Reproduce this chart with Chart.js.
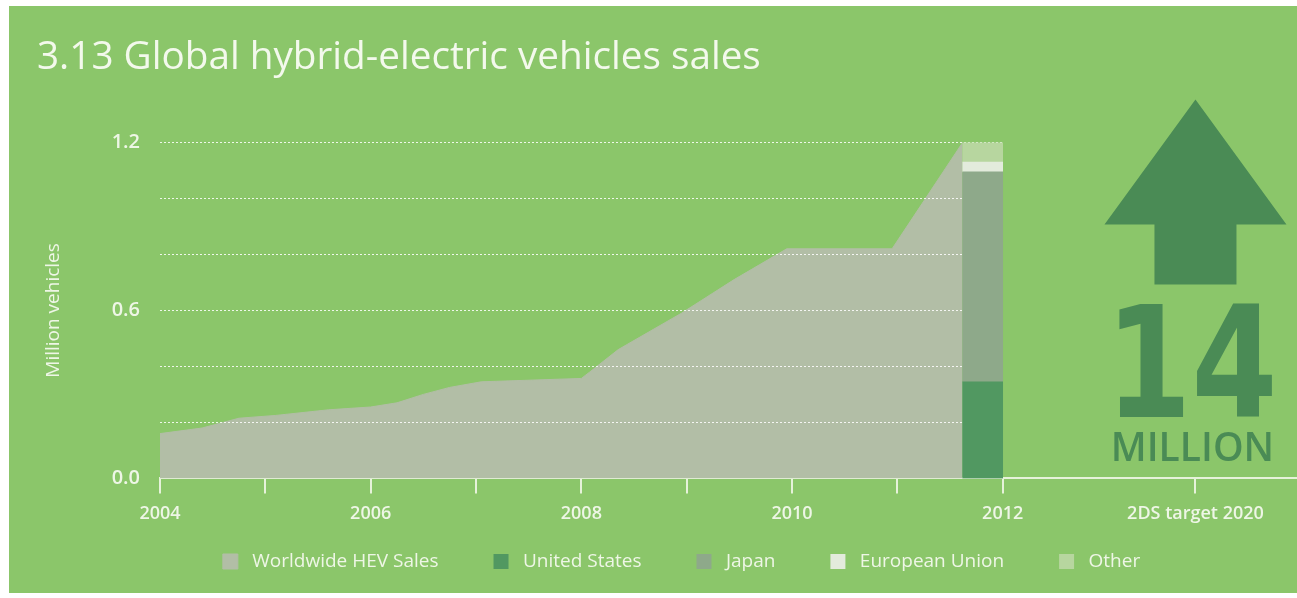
<!DOCTYPE html>
<html>
<head>
<meta charset="utf-8">
<title>Global hybrid-electric vehicles sales</title>
<script src="https://cdn.jsdelivr.net/npm/chart.js@4.4.1/dist/chart.umd.min.js"></script>
<style>
  html, body { margin: 0; padding: 0; background: #ffffff; }
  #panel {
    position: absolute; left: 9px; top: 6px;
    width: 1288px; height: 587px;
    overflow: hidden; background: #8bc66a;
  }
  #chart { display: block; }
</style>
</head>
<body>
<div id="panel"><canvas id="chart" width="1355" height="587"></canvas></div>
<script>
(function () {
  'use strict';

  // worldwide HEV sales (million vehicles)
  const areaYears = [2004.0, 2004.4, 2004.75, 2005.1, 2005.6, 2006.0, 2006.25, 2006.5, 2006.75, 2007.05, 2008.0, 2008.08, 2008.35, 2008.95, 2009.45, 2009.95, 2010.95, 2011.62];
  const areaSales = [0.16, 0.18, 0.215, 0.225, 0.245, 0.255, 0.27, 0.30, 0.325, 0.345, 0.357, 0.38, 0.46, 0.59, 0.71, 0.82, 0.82, 1.2];

  // 2012 regional split (million vehicles)
  const barYear = 2011.81;
  const usSales = [0.345];
  const japanSales = [0.75];
  const euSales = [0.035];
  const otherSales = [0.07];

  const seriesNames = ['Worldwide HEV Sales', 'United States', 'Japan', 'European Union', 'Other'];
  const seriesColors = ['#b2bea6', '#519861', '#8ea98a', '#e3ebdc', '#b7d69f'];

  // x axis: one tick a year, the 2020 target squeezed in after 2012
  const xTickValues = [2004, 2005, 2006, 2007, 2008, 2009, 2010, 2011, 2012, 2013.83];
  const xTickLabels = ['2004', '', '2006', '', '2008', '', '2010', '', '2012', '2DS target 2020'];
  const yLabelValues = [0, 0.6, 1.2];

  const targetValue = '14';
  const targetUnit = 'MILLION';
  const targetPos = 2013.83;

  const FONT = "'Open Sans', sans-serif";
  const TEXT = '#eef6e6';
  const AXIS = '#e6f2da';
  const DARK = '#4a8b55';

  // dotted grid drawn right after the area, so it sits over the fill but under the bar
  const dottedGrid = {
    id: 'dottedGrid',
    afterDatasetDraw(chart, args) {
      if (args.index !== 0) return;
      const { ctx } = chart;
      const x = chart.scales.x, y = chart.scales.y;
      const x0 = x.getPixelForValue(2004), x1 = x.getPixelForValue(2012);
      ctx.save();
      ctx.strokeStyle = 'rgba(255,255,255,0.85)';
      ctx.lineWidth = 1;
      ctx.setLineDash([2, 2]);
      y.ticks.forEach(t => {
        if (t.value <= 0.001) return;
        const py = Math.round(y.getPixelForValue(t.value)) + 0.5;
        ctx.beginPath(); ctx.moveTo(x0, py); ctx.lineTo(x1, py); ctx.stroke();
      });
      ctx.restore();
    }
  };

  // big arrow + "14 MILLION" over the 2020 tick
  const targetNote = {
    id: 'targetNote',
    afterDraw(chart) {
      const { ctx, chartArea: a } = chart;
      const cx = chart.scales.x.getPixelForValue(targetPos);
      ctx.save();
      ctx.fillStyle = DARK;
      ctx.beginPath();
      ctx.moveTo(cx, a.top - 43);
      ctx.lineTo(cx + 91, a.top + 82);
      ctx.lineTo(cx + 41, a.top + 82);
      ctx.lineTo(cx + 41, a.top + 142);
      ctx.lineTo(cx - 41, a.top + 142);
      ctx.lineTo(cx - 41, a.top + 82);
      ctx.lineTo(cx - 91, a.top + 82);
      ctx.closePath();
      ctx.fill();

      ctx.textAlign = 'center';
      ctx.textBaseline = 'alphabetic';
      ctx.font = "bold 155px 'DejaVu Sans', sans-serif";
      const w = ctx.measureText(targetValue).width;
      ctx.save();
      ctx.translate(cx - 4, a.top + 275);
      ctx.scale(172 / w, 1);
      ctx.fillText(targetValue, 0, 0);
      ctx.restore();

      ctx.font = "600 39px " + FONT;
      ctx.fillText(targetUnit, cx - 3, a.top + 319);
      ctx.restore();
    }
  };

  const xy = (xs, ys) => xs.map((x, i) => ({ x: x, y: ys[i] }));
  const barData = arr => arr.map(v => ({ x: barYear, y: v }));

  // legend: a little air after the swatch and between the entries
  const legendLabels = chart =>
    Chart.defaults.plugins.legend.labels.generateLabels(chart)
      .map(it => Object.assign(it, { text: ' ' + it.text + '\u2003\u2002\u2002' }));

  new Chart(document.getElementById('chart'), {
    type: 'line',
    data: {
      datasets: [
        { label: seriesNames[0], data: xy(areaYears, areaSales), stack: 'area', order: 2,
          backgroundColor: seriesColors[0], borderColor: seriesColors[0], borderWidth: 1,
          fill: 'origin', pointRadius: 0, tension: 0 },
        { type: 'bar', label: seriesNames[1], data: barData(usSales), stack: 'bar', order: 1, backgroundColor: seriesColors[1], borderWidth: 0, barThickness: 40 },
        { type: 'bar', label: seriesNames[2], data: barData(japanSales), stack: 'bar', order: 1, backgroundColor: seriesColors[2], borderWidth: 0, barThickness: 40 },
        { type: 'bar', label: seriesNames[3], data: barData(euSales), stack: 'bar', order: 1, backgroundColor: seriesColors[3], borderWidth: 0, barThickness: 40 },
        { type: 'bar', label: seriesNames[4], data: barData(otherSales), stack: 'bar', order: 1, backgroundColor: seriesColors[4], borderWidth: 0, barThickness: 40 },
      ],
    },
    options: {
      responsive: false,
      devicePixelRatio: 1,
      animation: false,
      events: [],
      layout: { padding: { left: 28, right: 0, top: 0, bottom: 12 } },
      plugins: {
        title: {
          display: true, align: 'start',
          text: '3.13 Global hybrid-electric vehicles sales',
          color: '#f3f9ec',
          font: { family: FONT, size: 38.7, weight: '400' },
          padding: { top: 29, bottom: 61 },
        },
        legend: {
          position: 'bottom',
          labels: {
            color: TEXT, boxWidth: 15, boxHeight: 15, padding: 17,
            font: { family: FONT, size: 19 },
            sort: (a, b) => a.datasetIndex - b.datasetIndex,
            generateLabels: legendLabels,
          },
        },
        tooltip: { enabled: false },
      },
      scales: {
        x: {
          type: 'linear', min: 2004, max: 2015.43, stacked: true, offset: false,
          afterBuildTicks: s => { s.ticks = xTickValues.map(v => ({ value: v })); },
          ticks: {
            autoSkip: false, maxRotation: 0, padding: 10, color: TEXT,
            font: { family: FONT, size: 18, weight: '600' },
            callback: (v, i) => xTickLabels[i],
          },
          grid: { display: true, drawOnChartArea: false, drawTicks: true, tickLength: 15, color: AXIS, lineWidth: 2, offset: false },
          border: { display: true, color: AXIS, width: 2 },
        },
        y: {
          min: 0, max: 1.2, stacked: true,
          afterFit: s => { s.width = 123; },
          ticks: {
            stepSize: 0.2, padding: 12, color: TEXT,
            font: { family: FONT, size: 20, weight: '600' },
            callback: v => yLabelValues.some(l => Math.abs(l - v) < 1e-6) ? v.toFixed(1) : '',
          },
          grid: { display: false },
          border: { display: false },
          title: { display: true, text: 'Million vehicles', color: TEXT, font: { family: FONT, size: 19 }, padding: { top: 5, bottom: 0 } },
        },
      },
    },
    plugins: [dottedGrid, targetNote],
  });
})();
</script>
</body>
</html>
